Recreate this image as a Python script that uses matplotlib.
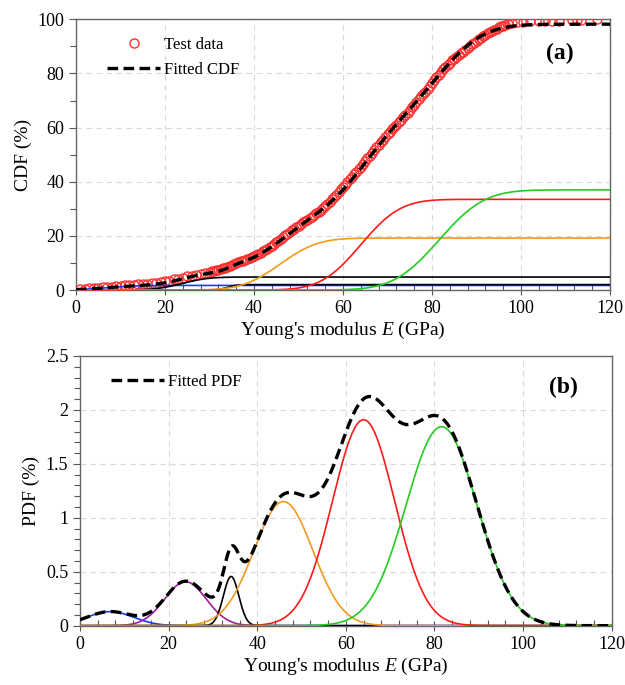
import math

import matplotlib

matplotlib.use("Agg")
import matplotlib.pyplot as plt
import numpy as np
from matplotlib.ticker import MultipleLocator

plt.rcParams["font.family"] = ["Liberation Serif", "DejaVu Serif"]
plt.rcParams["mathtext.fontset"] = "custom"
plt.rcParams["mathtext.rm"] = "Liberation Serif"
plt.rcParams["mathtext.it"] = "Liberation Serif:italic"

# ── Gaussian mixture components (b) / plateaus of panel (a) ──
comp_means = [6.8, 23.8, 34.1, 45.9, 64.0, 81.6]  # GPa
comp_sds = [5.2, 4.7, 1.75, 6.66, 7.0, 8.0]  # GPa
comp_weights = [1.7, 4.8, 2.0, 19.2, 33.5, 37.0]  # %
pdf_colors = ["#1a3cff", "#a020a0", "black", "#f29a1c", "#ff1a1a", "#22cc22"]
cdf_colors = ["#1a3cff", "black", "black", "#f29a1c", "#ff1a1a", "#22cc22"]

# ── Test data (empirical CDF, %) ──
test_E = [
    1, 2, 3, 4, 5, 6, 7, 8, 9, 10, 11, 12, 13, 14, 15, 16, 17, 18, 19, 20,
    21, 22, 23, 24, 25, 26, 27, 28, 29, 30, 31, 32, 33, 34, 35, 36, 37, 38, 39, 40,
    41, 42, 43, 44, 45, 46, 47, 48, 49, 50, 51, 52, 53, 54, 55, 56, 57, 58, 59, 60,
    61, 62, 63, 64, 65, 66, 67, 68, 69, 70, 71, 72, 73, 74, 75, 76, 77, 78, 79, 80,
    81, 82, 83, 84, 85, 86, 87, 88, 89, 90, 91, 92, 93, 94, 95, 96, 97, 98, 99,
    100.5, 102, 104, 105.5, 107, 108.5, 111.5, 112.5, 113.5, 117,
    30.5, 31.5, 32.5, 33.5, 34.5, 35.5, 36.5, 37.5, 38.5, 39.5,
    40.5, 41.5, 42.5, 43.5, 44.5, 45.5, 46.5, 47.5, 48.5, 49.5,
    50.5, 51.5, 52.5, 53.5, 54.5, 55.5, 56.5, 57.5, 58.5, 59.5,
    60.5, 61.5, 62.5, 63.5, 64.5, 65.5, 66.5, 67.5, 68.5, 69.5,
    70.5, 71.5, 72.5, 73.5, 74.5, 75.5, 76.5, 77.5, 78.5, 79.5,
    80.5, 81.5, 82.5, 83.5, 84.5, 85.5, 86.5, 87.5, 88.5, 89.5,
    90.5, 91.5, 92.5, 93.5, 94.5, 95.5, 96.5,
]
test_cdf = [
    0.3, 0.4, 0.6, 0.7, 0.9, 1.0, 1.1, 1.3, 1.4, 1.6, 1.7, 1.8, 1.9, 2.1, 2.2, 2.3, 2.5, 2.7, 2.9, 3.2,
    3.5, 3.9, 4.2, 4.6, 5.0, 5.3, 5.6, 5.9, 6.2, 6.6, 7.0, 7.5, 8.0, 8.6, 9.2, 9.9, 10.6, 11.2, 11.8, 12.5,
    13.4, 14.3, 15.3, 16.4, 17.6, 18.9, 20.2, 21.4, 22.6, 23.8, 25.0, 26.0, 27.1, 28.3, 29.6, 31.0, 32.6, 34.3, 36.1, 38.0,
    39.9, 41.8, 43.7, 45.6, 47.5, 49.6, 51.6, 53.6, 55.6, 57.5, 59.3, 61.1, 62.9, 64.7, 66.5, 68.4, 70.4, 72.4, 74.4, 76.5,
    78.6, 80.5, 82.3, 84.0, 85.5, 86.8, 88.1, 89.4, 90.7, 92.0, 93.2, 94.3, 95.3, 96.2, 97.0, 97.7, 98.2, 98.6, 98.9,
    99.1, 99.2, 99.3, 99.4, 99.5, 99.5, 99.7, 99.8, 99.9, 100.0,
    6.9, 7.3, 7.8, 8.3, 8.9, 9.6, 10.2, 10.9, 11.5, 12.2,
    13.0, 13.8, 14.9, 15.8, 17.1, 18.2, 19.6, 20.8, 22.0, 23.3,
    24.5, 25.4, 26.6, 27.6, 29.0, 30.2, 31.8, 33.5, 35.1, 37.2,
    38.9, 40.9, 42.7, 44.7, 46.5, 48.6, 50.5, 52.7, 54.5, 56.6,
    58.3, 60.3, 61.9, 63.9, 65.5, 67.5, 69.3, 71.5, 73.3, 75.5,
    77.6, 79.6, 81.5, 83.2, 84.8, 86.1, 87.5, 88.7, 90.1, 91.3,
    92.6, 93.8, 94.8, 95.8, 96.6, 97.4, 98.0,
]

E = np.linspace(0, 120, 1201)
erf = np.vectorize(math.erf)


def comp_pdf(mu, sd, w):
    return w * np.exp(-0.5 * ((E - mu) / sd) ** 2) / (sd * math.sqrt(2 * math.pi))


def comp_cdf(mu, sd, w):
    return w * 0.5 * (1 + erf((E - mu) / (sd * math.sqrt(2))))


def style_axes(ax, ymax, ymajor, yminor):
    ax.set_xlim(0, 120)
    ax.set_ylim(0, ymax)
    ax.xaxis.set_major_locator(MultipleLocator(20))
    ax.xaxis.set_minor_locator(MultipleLocator(4))
    ax.yaxis.set_major_locator(MultipleLocator(ymajor))
    ax.yaxis.set_minor_locator(MultipleLocator(yminor))
    ax.tick_params(axis="x", which="major", direction="inout", length=7, width=0.8,
                   colors="#555555", labelcolor="black", labelsize=13, pad=4)
    ax.tick_params(axis="x", which="minor", direction="in", length=4, width=0.8, colors="#555555")
    ax.tick_params(axis="y", which="major", direction="out", length=5, width=0.8,
                   colors="#555555", labelcolor="black", labelsize=13)
    ax.tick_params(axis="y", which="minor", direction="out", length=4, width=0.8, colors="#555555")
    for sp in ax.spines.values():
        sp.set_color("#666666")
        sp.set_linewidth(1.0)
    ax.grid(True, which="major", ls=(0, (5, 4)), color="#d9d9d9", lw=0.8)
    ax.set_axisbelow(True)
    ax.set_xlabel("Young's modulus $E$ (GPa)", fontsize=14, labelpad=2)


fig = plt.figure(figsize=(6.25, 6.85), dpi=100)
ax_a = fig.add_axes([0.1216, 0.5766, 0.8544, 0.3952])
ax_b = fig.add_axes([0.128, 0.0866, 0.8507, 0.3937])

# ── (a) CDF ──
ax_a.plot(test_E, test_cdf, ls="none", marker="o", ms=6.5, mfc="none", mec="#ff3030",
          mew=1.0, label="Test data", zorder=3)
total_cdf = np.zeros_like(E)
for mu, sd, w, c in zip(comp_means, comp_sds, comp_weights, cdf_colors):
    y = comp_cdf(mu, sd, w)
    total_cdf += y
    ax_a.plot(E, y, color=c, lw=1.2, zorder=3)
ax_a.plot(E, total_cdf, color="black", lw=2.4, ls=(0, (3.2, 1.6)), label="Fitted CDF", zorder=4)
style_axes(ax_a, 100, 20, 10)
ax_a.set_ylabel("CDF (%)", fontsize=14, labelpad=4)
ax_a.legend(loc="upper left", bbox_to_anchor=(0.03, 0.99), frameon=False, fontsize=12,
            handlelength=3.2, handletextpad=0.2, labelspacing=0.55)
ax_a.text(108.8, 87.5, "(a)", fontsize=17, fontweight="bold", ha="center", va="center")

# ── (b) PDF ──
total_pdf = np.zeros_like(E)
for mu, sd, w, c in zip(comp_means, comp_sds, comp_weights, pdf_colors):
    y = comp_pdf(mu, sd, w)
    total_pdf += y
    ax_b.plot(E, y, color=c, lw=1.2, zorder=3)
ax_b.plot(E, total_pdf, color="black", lw=2.4, ls=(0, (3.2, 1.6)), label="Fitted PDF", zorder=4)
style_axes(ax_b, 2.5, 0.5, 0.1)
ax_b.set_yticks([0, 0.5, 1, 1.5, 2, 2.5])
ax_b.set_yticklabels(["0", "0.5", "1", "1.5", "2", "2.5"])
ax_b.set_ylabel("PDF (%)", fontsize=14, labelpad=4)
ax_b.legend(loc="upper left", bbox_to_anchor=(0.03, 0.99), frameon=False, fontsize=12,
            handlelength=3.2, handletextpad=0.2)
ax_b.text(109, 2.21, "(b)", fontsize=17, fontweight="bold", ha="center", va="center")

fig.savefig("out.png", dpi=100)
plt.close(fig)
